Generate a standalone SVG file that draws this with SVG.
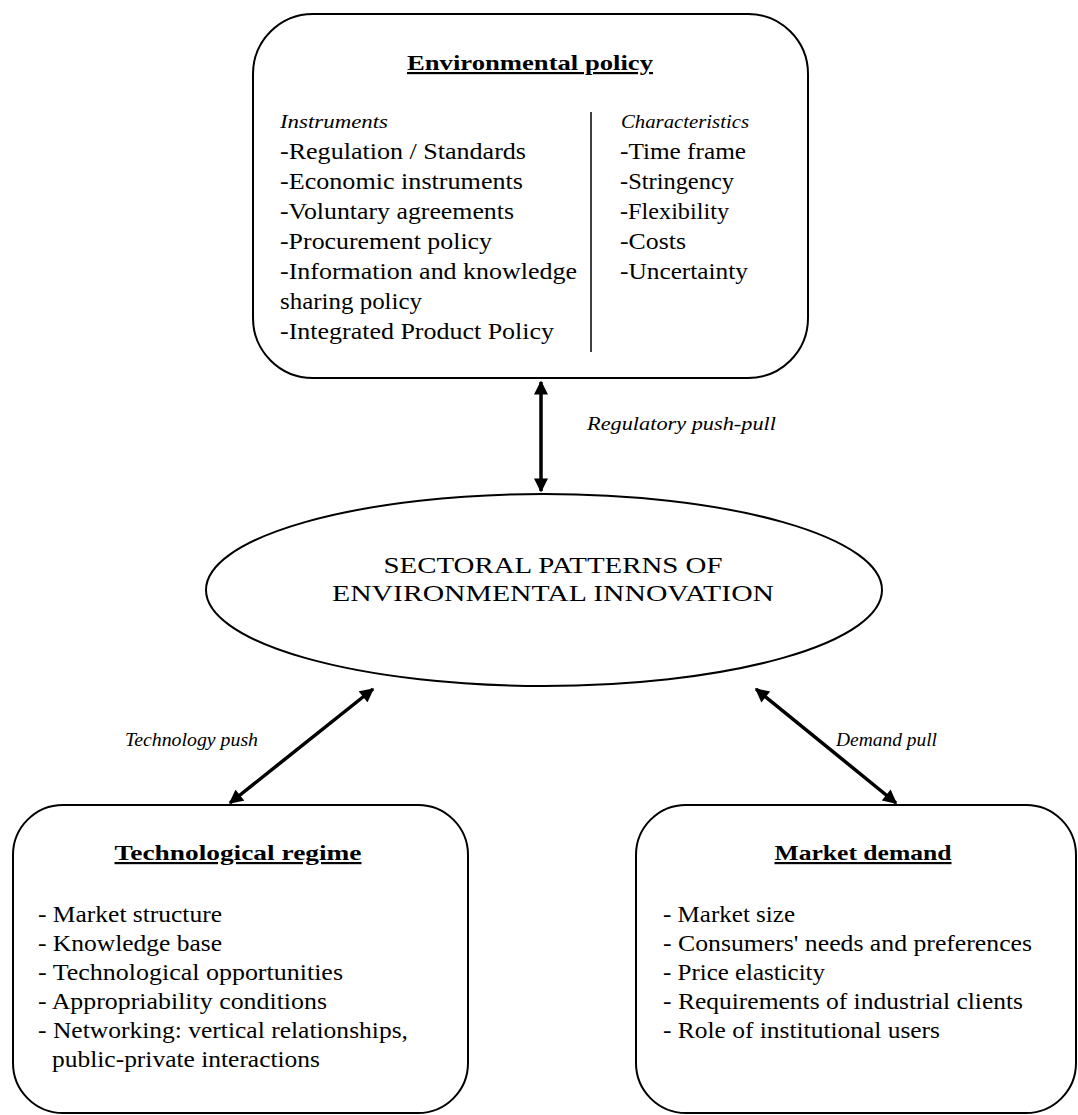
<svg xmlns="http://www.w3.org/2000/svg" width="1078" height="1115" viewBox="0 0 1078 1115">
<style>
text { font-family: "Liberation Serif", "Times New Roman", serif; fill: #000; }
.title { font-size: 22px; font-weight: bold; text-decoration: underline; }
.item { font-size: 23px; }
.ital { font-size: 19px; font-style: italic; }
.caps { font-size: 24px; }
.box { fill: #fff; stroke: #000; stroke-width: 2; }
.conn { stroke: #000; stroke-width: 3.5; fill: none; }
</style>
<defs>
<marker id="ah" viewBox="0 0 10 10" refX="9" refY="5" markerWidth="4.5" markerHeight="4" orient="auto-start-reverse" markerUnits="strokeWidth">
<path d="M0,0 L10,5 L0,10 z" fill="#000"/>
</marker>
</defs>
<g id="connectors">
<line class="conn" x1="541" y1="382" x2="541" y2="491" marker-start="url(#ah)" marker-end="url(#ah)"/>
<line class="conn" x1="373" y1="689" x2="230" y2="803" marker-start="url(#ah)" marker-end="url(#ah)"/>
<line class="conn" x1="756" y1="689" x2="896" y2="803" marker-start="url(#ah)" marker-end="url(#ah)"/>
<text class="ital" x="587" y="430" textLength="189" lengthAdjust="spacingAndGlyphs">Regulatory push-pull</text>
<text class="ital" x="125" y="746" textLength="133" lengthAdjust="spacingAndGlyphs">Technology push</text>
<text class="ital" x="836" y="746" textLength="101" lengthAdjust="spacingAndGlyphs">Demand pull</text>
</g>
<g id="environmental-policy">
<rect class="box" x="253" y="14" width="555" height="364" rx="60" ry="60"/>
<text class="title" x="530" y="70" text-anchor="middle" textLength="246" lengthAdjust="spacingAndGlyphs">Environmental policy</text>
<line x1="591" y1="112" x2="591" y2="352" stroke="#000" stroke-width="1.5"/>
<text class="ital" x="280" y="128" textLength="108" lengthAdjust="spacingAndGlyphs">Instruments</text>
<text class="item" x="280" y="159" textLength="246" lengthAdjust="spacingAndGlyphs">-Regulation / Standards</text>
<text class="item" x="280" y="189" textLength="243" lengthAdjust="spacingAndGlyphs">-Economic instruments</text>
<text class="item" x="280" y="219" textLength="234" lengthAdjust="spacingAndGlyphs">-Voluntary agreements</text>
<text class="item" x="280" y="249" textLength="212" lengthAdjust="spacingAndGlyphs">-Procurement policy</text>
<text class="item" x="280" y="279" textLength="297" lengthAdjust="spacingAndGlyphs">-Information and knowledge</text>
<text class="item" x="280" y="309" textLength="142" lengthAdjust="spacingAndGlyphs">sharing policy</text>
<text class="item" x="280" y="339" textLength="274" lengthAdjust="spacingAndGlyphs">-Integrated Product Policy</text>
<text class="ital" x="621" y="128" textLength="128" lengthAdjust="spacingAndGlyphs">Characteristics</text>
<text class="item" x="620" y="159" textLength="126" lengthAdjust="spacingAndGlyphs">-Time frame</text>
<text class="item" x="620" y="189" textLength="114" lengthAdjust="spacingAndGlyphs">-Stringency</text>
<text class="item" x="620" y="219" textLength="109" lengthAdjust="spacingAndGlyphs">-Flexibility</text>
<text class="item" x="620" y="249" textLength="66" lengthAdjust="spacingAndGlyphs">-Costs</text>
<text class="item" x="620" y="279" textLength="128" lengthAdjust="spacingAndGlyphs">-Uncertainty</text>
</g>
<g id="sectoral-patterns">
<ellipse class="box" cx="544" cy="590" rx="338" ry="96"/>
<text class="caps" x="553" y="573" text-anchor="middle" textLength="339" lengthAdjust="spacingAndGlyphs">SECTORAL PATTERNS OF</text>
<text class="caps" x="553" y="601" text-anchor="middle" textLength="442" lengthAdjust="spacingAndGlyphs">ENVIRONMENTAL INNOVATION</text>
</g>
<g id="technological-regime">
<rect class="box" x="13" y="805" width="455" height="308" rx="50" ry="50"/>
<text class="title" x="238" y="860" text-anchor="middle" textLength="247" lengthAdjust="spacingAndGlyphs">Technological regime</text>
<text class="item" x="38" y="922" textLength="184" lengthAdjust="spacingAndGlyphs">- Market structure</text>
<text class="item" x="38" y="951" textLength="184" lengthAdjust="spacingAndGlyphs">- Knowledge base</text>
<text class="item" x="38" y="980" textLength="305" lengthAdjust="spacingAndGlyphs">- Technological opportunities</text>
<text class="item" x="38" y="1009" textLength="289" lengthAdjust="spacingAndGlyphs">- Appropriability conditions</text>
<text class="item" x="38" y="1038" textLength="370" lengthAdjust="spacingAndGlyphs">- Networking: vertical relationships,</text>
<text class="item" x="52" y="1067" textLength="268" lengthAdjust="spacingAndGlyphs">public-private interactions</text>
</g>
<g id="market-demand">
<rect class="box" x="636" y="805" width="440" height="308" rx="50" ry="50"/>
<text class="title" x="863" y="860" text-anchor="middle" textLength="177" lengthAdjust="spacingAndGlyphs">Market demand</text>
<text class="item" x="663" y="922" textLength="132" lengthAdjust="spacingAndGlyphs">- Market size</text>
<text class="item" x="663" y="951" textLength="369" lengthAdjust="spacingAndGlyphs">- Consumers' needs and preferences</text>
<text class="item" x="663" y="980" textLength="162" lengthAdjust="spacingAndGlyphs">- Price elasticity</text>
<text class="item" x="663" y="1009" textLength="360" lengthAdjust="spacingAndGlyphs">- Requirements of industrial clients</text>
<text class="item" x="663" y="1038" textLength="277" lengthAdjust="spacingAndGlyphs">- Role of institutional users</text>
</g>
</svg>
